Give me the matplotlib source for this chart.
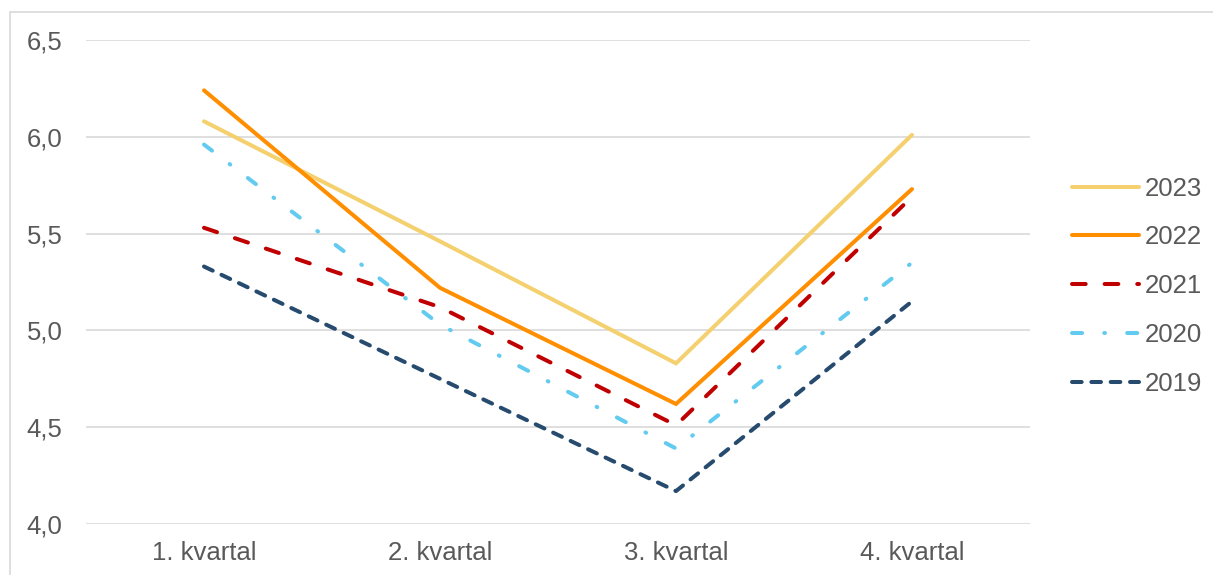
import matplotlib.pyplot as plt
from matplotlib.patches import Rectangle
from matplotlib.ticker import FuncFormatter

plt.rcParams['font.family'] = ['Liberation Sans', 'DejaVu Sans']

quarters = ["1. kvartal", "2. kvartal", "3. kvartal", "4. kvartal"]
years = ["2023", "2022", "2021", "2020", "2019"]
values_2023 = [6.08, 5.46, 4.83, 6.01]
values_2022 = [6.24, 5.22, 4.62, 5.73]
values_2021 = [5.53, 5.12, 4.51, 5.69]
values_2020 = [5.96, 5.03, 4.39, 5.35]
values_2019 = [5.33, 4.75, 4.17, 5.15]

series = [values_2023, values_2022, values_2021, values_2020, values_2019]
colors = ["#F4D06F", "#FF8F00", "#C00000", "#63CBEF", "#264B6E"]
dash_styles = [None, None, (3.4, 4.7), (2.5, 5.5, 0.2, 5.5), (2.4, 2.4)]

text_color = "#595959"
grid_color = "#D9D9D9"

fig = plt.figure(figsize=(12.13, 5.75), dpi=100)
# rammen rundt diagrammet (går ut over bildekanten)
fig.patches.append(Rectangle((10 / 1213, -0.1), 1.2, 1 - 12 / 575 + 0.1,
                             transform=fig.transFigure, fill=False,
                             edgecolor=grid_color, linewidth=1.2))

ax = fig.add_axes([86 / 1213, 1 - 524 / 575, (1030 - 86) / 1213, (524 - 40) / 575])

x = list(range(len(quarters)))
for label, vals, color, dash in zip(years, series, colors, dash_styles):
    line, = ax.plot(x, vals, color=color, linewidth=2.9, label=label,
                    solid_capstyle='round', dash_capstyle='round',
                    solid_joinstyle='miter')
    if dash is not None:
        line.set_dashes(dash)

ax.set_xlim(-0.5, len(quarters) - 0.5)
ax.set_ylim(4.0, 6.5)
ax.set_yticks([4.0, 4.5, 5.0, 5.5, 6.0, 6.5])
ax.yaxis.set_major_formatter(FuncFormatter(lambda v, p: f"{v:.1f}".replace(".", ",")))
ax.set_xticks(x)
ax.set_xticklabels(quarters)

ax.grid(axis='y', color=grid_color, linewidth=1.2)
ax.set_axisbelow(True)
for s in ax.spines.values():
    s.set_visible(False)
ax.tick_params(axis='both', length=0, labelsize=18.5, labelcolor=text_color)
ax.tick_params(axis='y', pad=17)
ax.tick_params(axis='x', pad=12)

leg = ax.legend(loc='center left', bbox_to_anchor=(1.034, 0.491), frameon=False,
                fontsize=18.5, handlelength=2.6, handletextpad=0.23,
                labelspacing=0.97, borderaxespad=0)
for t in leg.get_texts():
    t.set_color(text_color)

fig.savefig("out.png", dpi=100)
